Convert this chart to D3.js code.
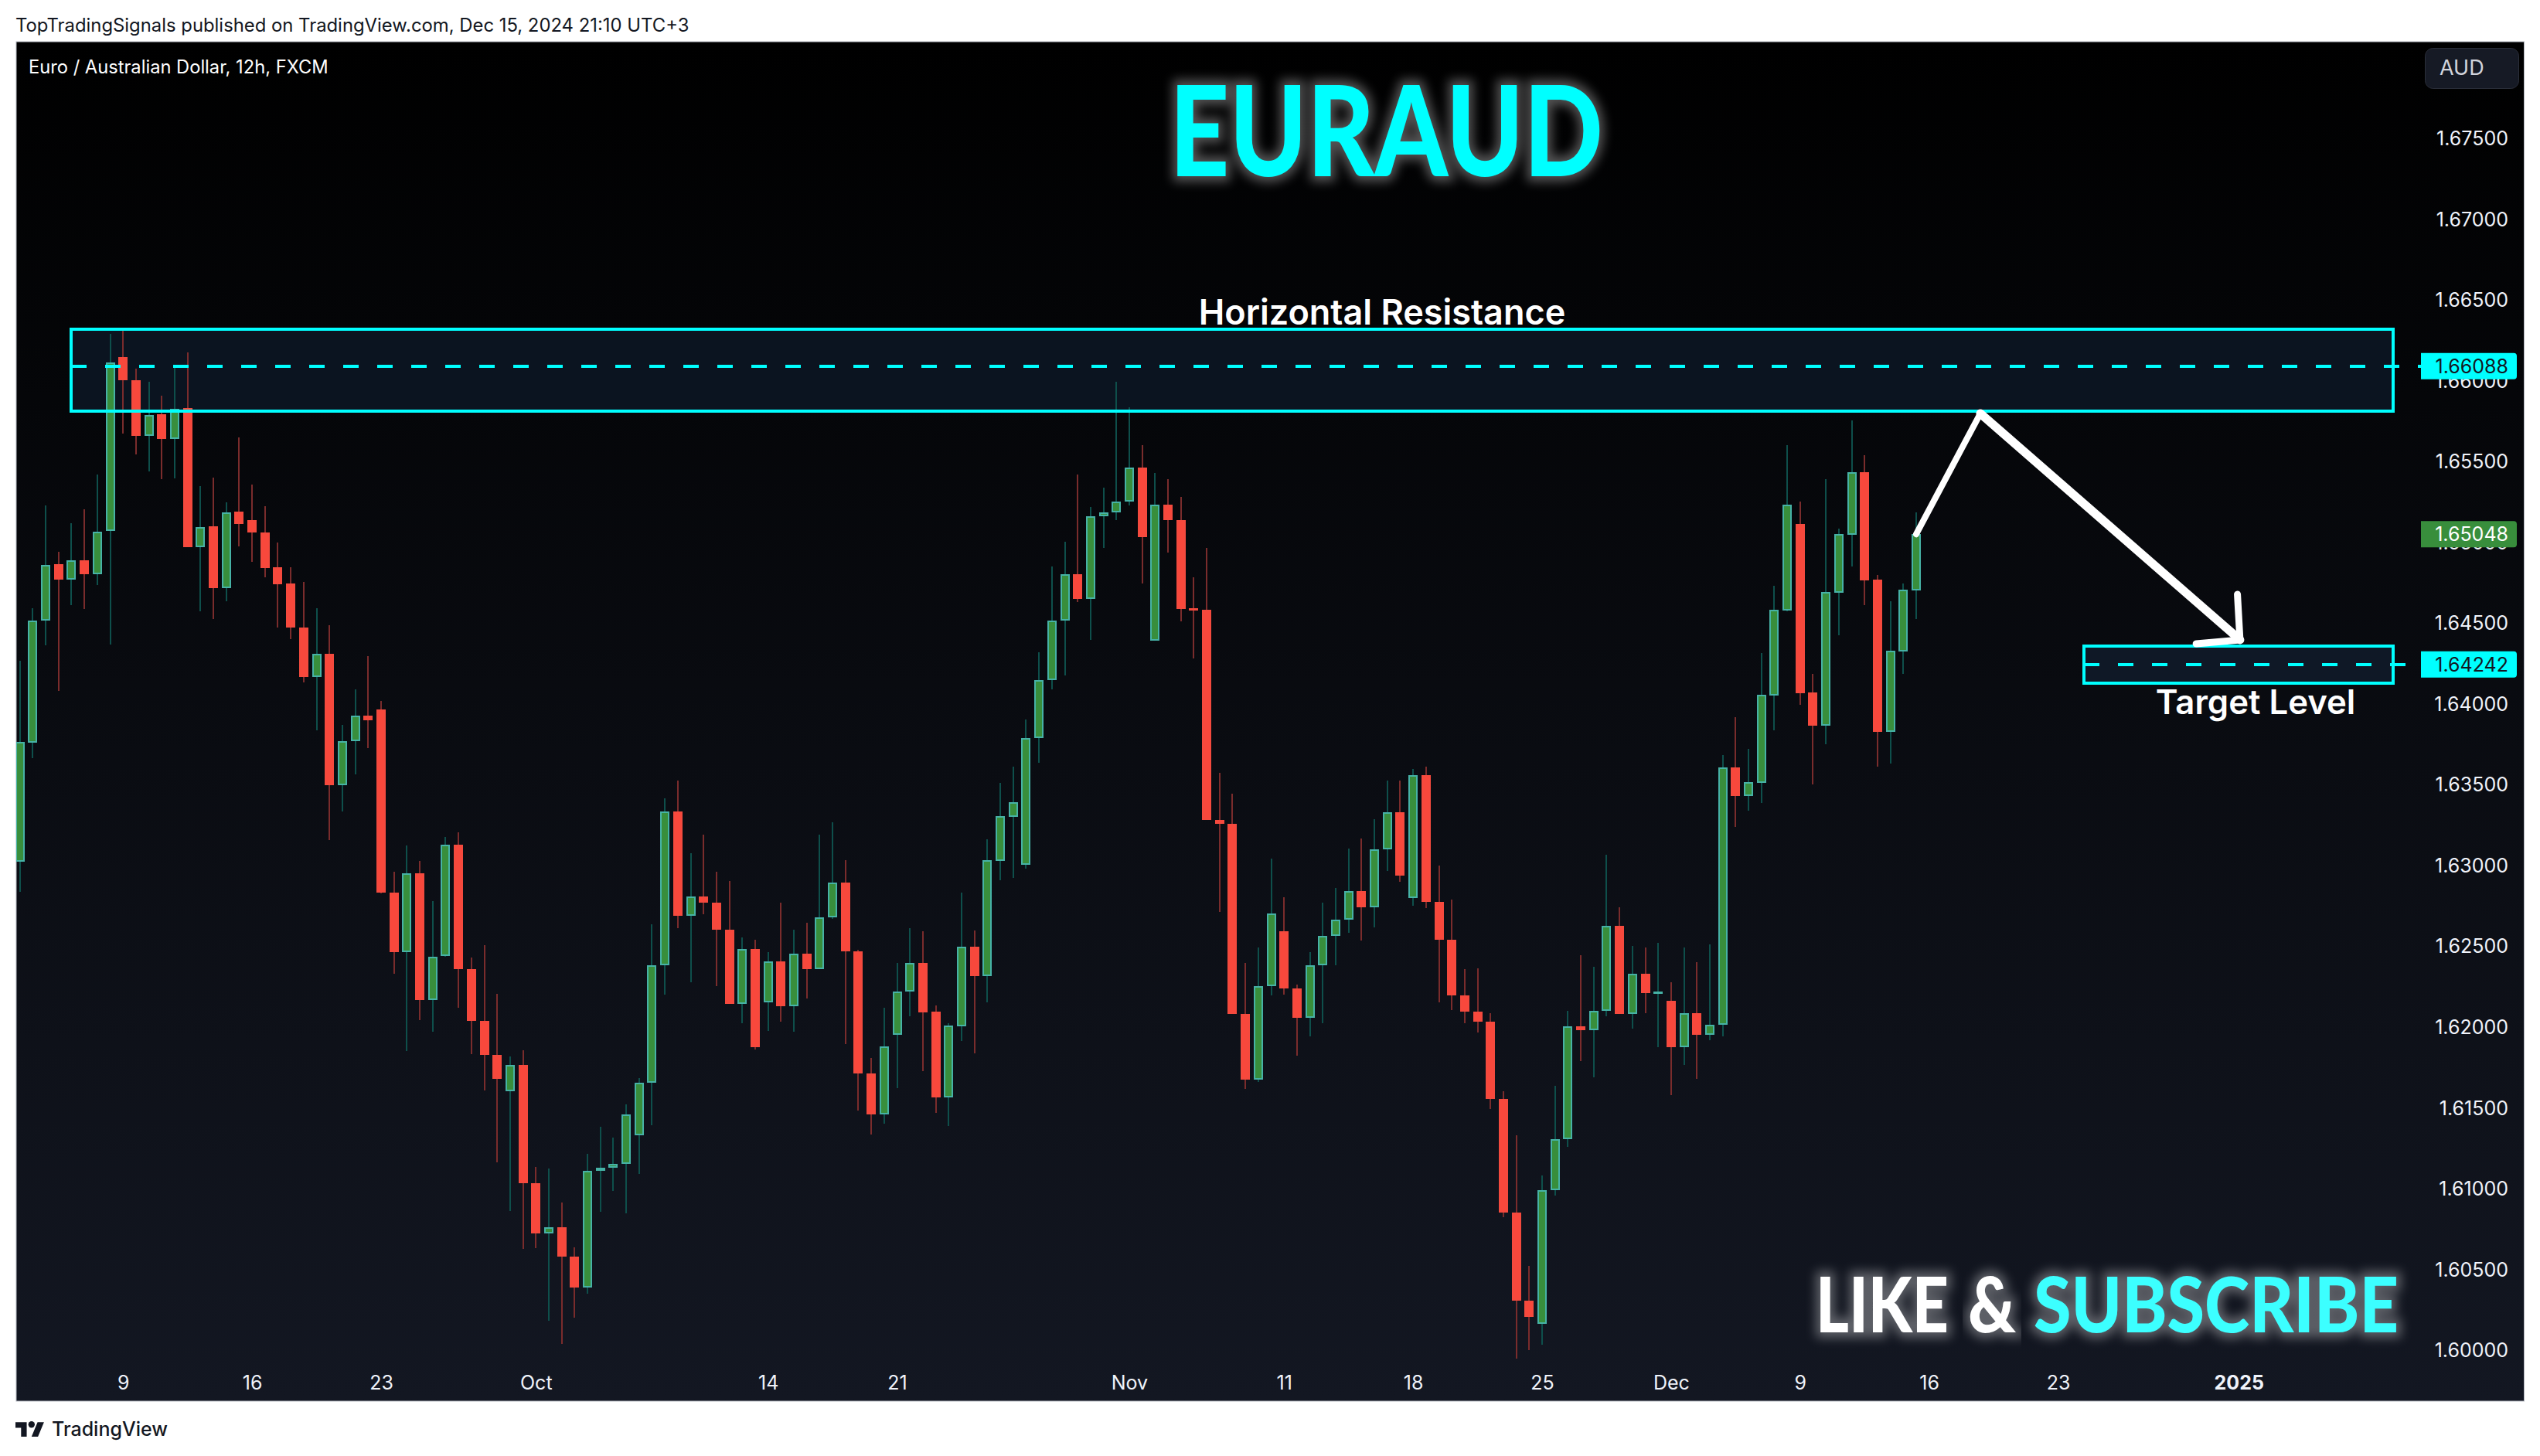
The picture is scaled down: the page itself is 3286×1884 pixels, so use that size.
<!DOCTYPE html>
<html>
<head>
<meta charset="utf-8">
<script src="https://cdn.jsdelivr.net/npm/d3@7"></script>
<style>
    html, body { margin: 0; padding: 0; background: #fff; }
    svg { display: block; }
    text { font-family: Inter, "Noto Sans", sans-serif; }
</style>
</head>
<body>
<div id="chart"></div>
<script>
// EURAUD 12h candles
var candleOpen = [
    1.63020,1.63759,1.64511,1.64862,1.64769,1.64886,1.64799,1.65067,1.66143,1.66002,
    1.65655,1.65789,1.65635,1.65828,1.64969,1.65096,1.64716,1.65186,1.65135,1.65057,
    1.64842,1.64742,1.64469,1.64162,1.64308,1.63493,1.63769,1.63925,1.63964,1.62832,
    1.62463,1.62951,1.62163,1.62437,1.63127,1.62358,1.62034,1.61824,1.61602,1.61765,
    1.61033,1.60719,1.60760,1.60575,1.60384,1.61107,1.61129,1.61153,1.61326,1.61651,
    1.62378,1.63334,1.62688,1.62807,1.62766,1.62602,1.62139,1.62483,1.62149,1.62402,
    1.62129,1.62454,1.62358,1.62678,1.62890,1.62468,1.61709,1.61456,1.61948,1.62219,
    1.62395,1.62093,1.61562,1.62002,1.62495,1.62313,1.63026,1.63298,1.63002,1.63784,
    1.64143,1.64511,1.64799,1.64645,1.65158,1.65185,1.65248,1.65458,1.64387,1.65233,
    1.65133,1.64589,1.64579,1.63281,1.63257,1.62081,1.61674,1.62250,1.62589,1.62239,
    1.62053,1.62382,1.62563,1.62664,1.62841,1.62737,1.63100,1.63325,1.62794,1.63559,
    1.62771,1.62540,1.62195,1.62092,1.62029,1.61555,1.60852,1.60303,1.60160,1.60987,
    1.61306,1.62001,1.61978,1.62097,1.62626,1.62081,1.62330,1.62206,1.62162,1.61871,
    1.62086,1.61949,1.62014,1.63605,1.63429,1.63509,1.64049,1.64575,1.65111,1.64068,
    1.63863,1.64685,1.65044,1.65432,1.64767,1.63825,1.64322,1.64700
];
var candleHigh = [
    1.64264,1.64591,1.65228,1.64940,1.65116,1.65201,1.65418,1.66287,1.66306,1.66072,
    1.65992,1.65904,1.66075,1.66172,1.65345,1.65399,1.65245,1.65648,1.65355,1.65221,
    1.64996,1.64842,1.64752,1.64589,1.64484,1.63869,1.64088,1.64293,1.64015,1.62959,
    1.63122,1.63027,1.62778,1.63173,1.63203,1.62429,1.62505,1.62202,1.61817,1.61853,
    1.61131,1.61121,1.60911,1.60636,1.61214,1.61380,1.61314,1.61519,1.61683,1.62634,
    1.63412,1.63522,1.63073,1.63188,1.62959,1.62902,1.62554,1.62539,1.62461,1.62768,
    1.62600,1.62644,1.63188,1.63266,1.63032,1.62475,1.61807,1.62117,1.62395,1.62610,
    1.62591,1.62131,1.62022,1.62830,1.62595,1.63160,1.63509,1.63609,1.63901,1.64318,
    1.64848,1.65002,1.65416,1.65214,1.65336,1.65992,1.65834,1.65599,1.65426,1.65390,
    1.65280,1.64782,1.64963,1.63572,1.63442,1.62397,1.62491,1.63040,1.62799,1.62260,
    1.62462,1.62768,1.62859,1.63103,1.63165,1.63284,1.63522,1.63522,1.63595,1.63611,
    1.62996,1.62786,1.62356,1.62361,1.62084,1.61599,1.61329,1.60518,1.61081,1.61635,
    1.62099,1.62442,1.62372,1.63064,1.62740,1.62501,1.62491,1.62519,1.62276,1.62491,
    1.62400,1.62509,1.63681,1.63915,1.63719,1.64312,1.64728,1.65599,1.65250,1.64183,
    1.65388,1.65082,1.65752,1.65537,1.64795,1.64633,1.64743,1.65183
];
var candleLow = [
    1.62834,1.63664,1.64362,1.64076,1.64611,1.64586,1.64735,1.64364,1.65670,1.65543,
    1.65435,1.65387,1.65394,1.64969,1.64572,1.64525,1.64633,1.64972,1.64877,1.64781,
    1.64469,1.64398,1.64130,1.63835,1.63154,1.63330,1.63561,1.63725,1.62825,1.62327,
    1.61851,1.62041,1.61968,1.62434,1.62117,1.61831,1.61607,1.61163,1.60860,1.60626,
    1.60631,1.60179,1.60035,1.60199,1.60348,1.60855,1.60985,1.60846,1.61090,1.61390,
    1.62197,1.62610,1.62275,1.62695,1.62251,1.62139,1.62022,1.61858,1.61973,1.62031,
    1.61968,1.62175,1.62358,1.62668,1.61892,1.61480,1.61331,1.61402,1.61619,1.62066,
    1.61725,1.61467,1.61386,1.61911,1.61835,1.62151,1.62906,1.62921,1.62978,1.63635,
    1.64087,1.64172,1.64628,1.64394,1.64963,1.65136,1.65226,1.64743,1.64387,1.64933,
    1.64509,1.64279,1.63279,1.62710,1.62079,1.61615,1.61656,1.62193,1.62198,1.61822,
    1.61941,1.62022,1.62379,1.62582,1.62532,1.62615,1.62963,1.62898,1.62747,1.62734,
    1.62151,1.62102,1.62022,1.61965,1.61490,1.60821,1.59945,1.60000,1.60033,1.60956,
    1.61257,1.61788,1.61687,1.62066,1.62081,1.61990,1.62084,1.61874,1.61576,1.61762,
    1.61677,1.61915,1.61941,1.63235,1.63336,1.63385,1.63834,1.64571,1.63992,1.63499,
    1.63748,1.64422,1.64848,1.64609,1.63609,1.63628,1.64183,1.64523
];
var candleClose = [
    1.63761,1.64513,1.64860,1.64769,1.64884,1.64799,1.65065,1.66109,1.65999,1.65655,
    1.65787,1.65635,1.65826,1.64969,1.65094,1.64716,1.65184,1.65113,1.65057,1.64840,
    1.64740,1.64469,1.64162,1.64306,1.63493,1.63769,1.63923,1.63898,1.62832,1.62463,
    1.62951,1.62163,1.62434,1.63125,1.62358,1.62034,1.61824,1.61675,1.61765,1.61033,
    1.60719,1.60760,1.60575,1.60384,1.61107,1.61129,1.61153,1.61456,1.61651,1.62378,
    1.63334,1.62688,1.62807,1.62766,1.62602,1.62139,1.62483,1.61875,1.62402,1.62129,
    1.62454,1.62358,1.62678,1.62890,1.62468,1.61709,1.61456,1.61880,1.62219,1.62393,
    1.62088,1.61562,1.62007,1.62495,1.62313,1.63031,1.63303,1.63389,1.63784,1.64143,
    1.64511,1.64799,1.64645,1.65158,1.65185,1.65248,1.65458,1.65028,1.65233,1.65133,
    1.64587,1.64575,1.63281,1.63257,1.62081,1.61674,1.62250,1.62703,1.62239,1.62053,
    1.62382,1.62563,1.62664,1.62841,1.62737,1.63100,1.63325,1.62937,1.63559,1.62771,
    1.62540,1.62195,1.62092,1.62029,1.61555,1.60852,1.60303,1.60202,1.60987,1.61306,
    1.62001,1.61978,1.62097,1.62626,1.62081,1.62330,1.62206,1.62216,1.61871,1.62086,
    1.61949,1.62014,1.63605,1.63429,1.63512,1.64054,1.64580,1.65231,1.64064,1.63863,
    1.64690,1.65049,1.65432,1.64762,1.63825,1.64327,1.64705,1.65048
];

var priceTicks = [1.675,1.67,1.665,1.66,1.655,1.65,1.645,1.64,1.635,1.63,1.625,1.62,1.615,1.61,1.605,1.6];
var timeTickIdx = [8,18,28,40,58,68,86,98,108,118,128,138,148,158,172];
var timeTickLabels = ["9","16","23","Oct","14","21","Nov","11","18","25","Dec","9","16","23","2025"];

var resistanceZone = [1.66316, 1.65809];
var resistanceLevel = 1.66088;
var targetZone = [1.64355, 1.64126];
var targetLevel = 1.64242;
var lastPrice = 1.65048;
var zoneStartIdx = [3.97, 160.0];
var zoneEndIdx = 184;
var arrowIdx = [147, 151.97, 172.1];
var arrowPrice = [1.65048, 1.65795, 1.64394];
var arrowHeadIdx = [171.9, 172.1, 168.7];
var arrowHeadPrice = [1.64676, 1.64394, 1.64370];

var width = 3286, height = 1884;
var panel = {left: 21, top: 54, right: 3265.5, bottom: 1813};

var x = d3.scaleLinear().domain([0, 147]).range([25.7, 2479]);
var y = d3.scaleLinear().domain([1.675, 1.6]).range([178.5, 1746.7]);

function xr(v){ return Math.round(x(v)); }
function yr(v){ return Math.round(y(v)); }

var svg = d3.select("#chart").append("svg")
    .attr("width", width)
    .attr("height", height);

var defs = svg.append("defs");

var grad = defs.append("linearGradient")
    .attr("id", "panelBg")
    .attr("x1", 0).attr("y1", 0).attr("x2", 0).attr("y2", 1);
grad.append("stop").attr("offset", "0%").attr("stop-color", "#000000");
grad.append("stop").attr("offset", "100%").attr("stop-color", "#131722");

defs.append("clipPath").attr("id", "panelClip")
    .append("rect")
    .attr("x", panel.left).attr("y", panel.top)
    .attr("width", panel.right - panel.left)
    .attr("height", panel.bottom - panel.top);

var glow = defs.append("filter").attr("id", "glow")
    .attr("x", "-10%").attr("y", "-40%").attr("width", "120%").attr("height", "180%");
glow.append("feGaussianBlur").attr("stdDeviation", 7);

// header line
svg.append("text")
    .attr("x", 20).attr("y", 41)
    .attr("font-size", 23.85)
    .attr("fill", "#131722")
    .text("TopTradingSignals published on TradingView.com, Dec 15, 2024 21:10 UTC+3");

// chart panel
svg.append("rect")
    .attr("x", panel.left).attr("y", panel.top)
    .attr("width", panel.right - panel.left)
    .attr("height", panel.bottom - panel.top)
    .attr("fill", "url(#panelBg)")
    .attr("stroke", "#b2b5be")
    .attr("stroke-width", 1);

var plot = svg.append("g").attr("clip-path", "url(#panelClip)");

function zoneRect(startIdx, zone){
    return plot.append("rect")
        .attr("x", xr(startIdx)).attr("y", yr(zone[0]))
        .attr("width", xr(zoneEndIdx) - xr(startIdx))
        .attr("height", yr(zone[1]) - yr(zone[0]));
}

// zones sit under the candles
zoneRect(zoneStartIdx[0], resistanceZone).attr("fill", "#0b1420");
zoneRect(zoneStartIdx[1], targetZone).attr("fill", "#0f1826");

// candles
var candles = d3.range(candleOpen.length).map(function(i){
    return {
        i: i,
        open: candleOpen[i],
        high: candleHigh[i],
        low: candleLow[i],
        close: candleClose[i],
        up: candleClose[i] >= candleOpen[i]
    };
});

plot.selectAll(".wick").data(candles).enter().append("line")
    .attr("class", "wick")
    .attr("x1", function(d){ return xr(d.i); })
    .attr("x2", function(d){ return xr(d.i); })
    .attr("y1", function(d){ return yr(d.high); })
    .attr("y2", function(d){ return yr(d.low); })
    .attr("stroke", function(d){ return d.up ? "#0e4f4b" : "#7a2c2c"; })
    .attr("stroke-width", 2);

plot.selectAll(".body").data(candles).enter().append("rect")
    .attr("class", "body")
    .attr("x", function(d){ return xr(d.i) - 5; })
    .attr("width", 10)
    .attr("y", function(d){ return yr(Math.max(d.open, d.close)) + 1; })
    .attr("height", function(d){ return Math.max(1, Math.abs(yr(d.open) - yr(d.close)) - 2); })
    .attr("fill", function(d){ return d.up ? "#388e3c" : "#f8483c"; })
    .attr("stroke", function(d){ return d.up ? "#46b2a6" : "#f44a3e"; })
    .attr("stroke-width", 2);

// zone outlines and dashed levels
var cyan = "#00ffff";
zoneRect(zoneStartIdx[0], resistanceZone)
    .attr("fill", "none").attr("stroke", cyan).attr("stroke-width", 4);
zoneRect(zoneStartIdx[1], targetZone)
    .attr("fill", "none").attr("stroke", cyan).attr("stroke-width", 4);

function levelLine(idx, price){
    plot.append("line")
        .attr("x1", xr(idx)).attr("x2", 3132)
        .attr("y1", yr(price)).attr("y2", yr(price))
        .attr("stroke", cyan)
        .attr("stroke-width", 4)
        .attr("stroke-dasharray", "20 24");
}
levelLine(zoneStartIdx[0], resistanceLevel);
levelLine(zoneStartIdx[1], targetLevel);

// arrow
var arrowLine = d3.line()
    .x(function(d){ return x(d[0]); })
    .y(function(d){ return y(d[1]); });

plot.append("path")
    .attr("d", arrowLine([[arrowIdx[0], arrowPrice[0]], [arrowIdx[1], arrowPrice[1]]]))
    .attr("fill", "none").attr("stroke", "#fff").attr("stroke-width", 8)
    .attr("stroke-linecap", "round");
plot.append("path")
    .attr("d", arrowLine([[arrowIdx[1], arrowPrice[1]], [arrowIdx[2], arrowPrice[2]]]))
    .attr("fill", "none").attr("stroke", "#fff").attr("stroke-width", 11)
    .attr("stroke-linecap", "round");
plot.append("path")
    .attr("d", arrowLine(arrowHeadIdx.map(function(v, i){ return [v, arrowHeadPrice[i]]; })))
    .attr("fill", "none").attr("stroke", "#fff").attr("stroke-width", 9)
    .attr("stroke-linecap", "round").attr("stroke-linejoin", "round");

// price axis
var priceAxis = d3.axisRight(y)
    .tickValues(priceTicks)
    .tickSize(0)
    .tickPadding(0)
    .tickFormat(d3.format(".5f"));
var priceG = svg.append("g")
    .attr("transform", "translate(3245,1)")
    .call(priceAxis);
priceG.select(".domain").remove();
priceG.selectAll("text")
    .attr("text-anchor", "end")
    .attr("font-family", "Inter")
    .attr("font-size", 25)
    .attr("fill", "#f0f3fa");

// time axis
var timeAxis = d3.axisBottom(x)
    .tickValues(timeTickIdx)
    .tickSize(0)
    .tickPadding(0)
    .tickFormat(function(d, i){ return timeTickLabels[i]; });
var timeG = svg.append("g")
    .attr("transform", "translate(0,1780)")
    .call(timeAxis);
timeG.select(".domain").remove();
timeG.selectAll("text")
    .attr("font-family", "Inter")
    .attr("font-size", 25)
    .attr("fill", "#f0f3fa")
    .attr("font-weight", function(d, i){ return timeTickLabels[i] === "2025" ? 700 : 400; });

// price labels on the axis
function priceLabel(price, bg, fg){
    var yp = y(price);
    svg.append("path")
        .attr("d", "M3132," + (yp - 17) + "H3252a4,4 0 0 1 4,4V" + (yp + 13) + "a4,4 0 0 1 -4,4H3132Z")
        .attr("fill", bg);
    svg.append("text")
        .attr("x", 3245).attr("y", yp + 9)
        .attr("text-anchor", "end")
        .attr("font-size", 25)
        .attr("fill", fg)
        .text(d3.format(".5f")(price));
}
priceLabel(resistanceLevel, cyan, "#131722");
priceLabel(lastPrice, "#388e3c", "#ffffff");
priceLabel(targetLevel, cyan, "#131722");

// texts on the chart
svg.append("text")
    .attr("x", 37).attr("y", 95)
    .attr("font-size", 23.7)
    .attr("fill", "#ffffff")
    .text("Euro / Australian Dollar, 12h, FXCM");

svg.append("rect")
    .attr("x", 3137.5).attr("y", 62.5)
    .attr("width", 121).attr("height", 52).attr("rx", 10)
    .attr("fill", "#161a25").attr("stroke", "#2a2e39");
svg.append("text")
    .attr("x", 3156).attr("y", 97)
    .attr("font-size", 27)
    .attr("fill", "#d1d4dc")
    .text("AUD");

svg.append("text")
    .attr("x", 1788).attr("y", 420)
    .attr("text-anchor", "middle")
    .attr("font-size", 45)
    .attr("font-weight", 600)
    .attr("fill", "#ffffff")
    .text("Horizontal Resistance");

svg.append("text")
    .attr("x", 2918).attr("y", 924)
    .attr("text-anchor", "middle")
    .attr("font-size", 43.7)
    .attr("font-weight", 600)
    .attr("fill", "#ffffff")
    .text("Target Level");

function glowText(txt, xp, yp, size, len, color){
    svg.append("text")
        .attr("x", xp).attr("y", yp)
        .attr("font-size", size)
        .attr("font-weight", 900)
        .attr("textLength", len)
        .attr("lengthAdjust", "spacingAndGlyphs")
        .attr("fill", "#ffffff")
        .attr("stroke", "#ffffff")
        .attr("stroke-width", 14)
        .attr("opacity", 0.32)
        .attr("filter", "url(#glow)")
        .style("font-family", "Lato")
        .text(txt);
    svg.append("text")
        .attr("x", xp).attr("y", yp)
        .attr("font-size", size)
        .attr("font-weight", 900)
        .attr("textLength", len)
        .attr("lengthAdjust", "spacingAndGlyphs")
        .attr("fill", color)
        .style("font-family", "Lato")
        .text(txt);
}
glowText("EURAUD", 1513, 228, 163, 561, cyan);
glowText("LIKE", 2349, 1724, 100, 172, "#ffffff");
glowText("&", 2546, 1724, 100, 62, "#ffffff");
glowText("SUBSCRIBE", 2631, 1724, 100, 472, "#3cffff");

// footer logo
var logo = svg.append("g")
    .attr("transform", "translate(20,1836) scale(1.04)")
    .attr("fill", "#131722");
logo.append("path").attr("d", "M14 22H7V11H0V4h14v18zM28 22h-8l7.5-18h8L28 22z");
logo.append("circle").attr("cx", 20).attr("cy", 7).attr("r", 4);

svg.append("text")
    .attr("x", 67).attr("y", 1858)
    .attr("font-size", 25)
    .attr("font-weight", 500)
    .attr("fill", "#131722")
    .text("TradingView");
</script>
</body>
</html>
